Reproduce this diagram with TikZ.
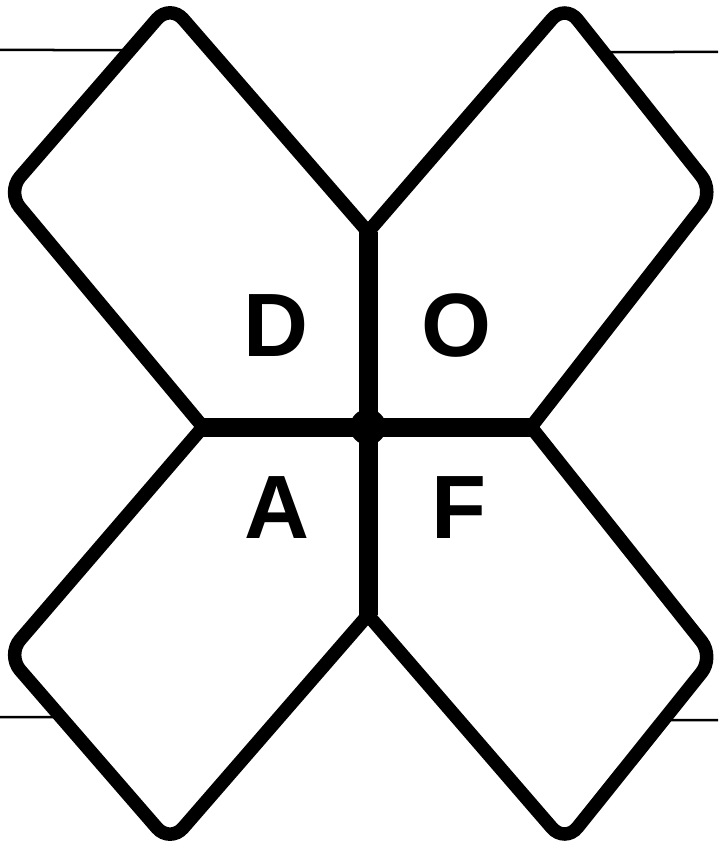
\documentclass[tikz,border=0pt]{standalone}
\usepackage{fontspec}
\setmainfont{Liberation Sans}
\begin{document}
\begin{tikzpicture}[x=1pt,y=-1pt,
  petal/.style={line width=13.5pt, line join=miter},
  crossbar/.style={line width=19pt},
  rule/.style={line width=2.5pt},
  letter/.style={inner sep=0pt, font=\fontsize{90}{90}\selectfont\bfseries}]
\useasboundingbox (0,0) rectangle (718,848);
% key points
\coordinate (C) at (368,427);
\coordinate (Lm) at (203,427);
\coordinate (Rm) at (531,427);
\coordinate (Tm) at (368,232);
\coordinate (Bm) at (368,615);
\coordinate (dL) at (7,192);
\coordinate (dT) at (170,4);
\coordinate (oT) at (565,4);
\coordinate (oR) at (714,192);
\coordinate (aL) at (7,655);
\coordinate (aB) at (170,843);
\coordinate (fB) at (565,843);
\coordinate (fR) at (714,657);
% petals
\draw[petal] (C) [rounded corners=5pt] -- (Lm) [rounded corners=20pt] -- (dL) -- (dT) [rounded corners=5pt] -- (Tm) [sharp corners] -- cycle;
\draw[petal] (C) [rounded corners=5pt] -- (Rm) [rounded corners=20pt] -- (oR) -- (oT) [rounded corners=5pt] -- (Tm) [sharp corners] -- cycle;
\draw[petal] (C) [rounded corners=5pt] -- (Lm) [rounded corners=20pt] -- (aL) -- (aB) [rounded corners=5pt] -- (Bm) [sharp corners] -- cycle;
\draw[petal] (C) [rounded corners=5pt] -- (Rm) [rounded corners=20pt] -- (fR) -- (fB) [rounded corners=5pt] -- (Bm) [sharp corners] -- cycle;
% central cross
\draw[crossbar] (Lm) -- (Rm);
\draw[crossbar] (Tm) -- (Bm);
\fill (C) circle (18);
% side rules
\coordinate (tlS) at (0,50);
\coordinate (tlE) at (intersection of dL--dT and 0,50--100,50);
\coordinate (trE) at (718,52);
\coordinate (trS) at (intersection of oT--oR and 600,52--700,52);
\coordinate (blS) at (0,717);
\coordinate (blE) at (intersection of aL--aB and 0,717--100,717);
\coordinate (brE) at (718,720);
\coordinate (brS) at (intersection of fR--fB and 600,720--700,720);
\draw[rule] (tlS) -- (tlE);
\draw[rule] (trS) -- (trE);
\draw[rule] (blS) -- (blE);
\draw[rule] (brS) -- (brE);
% letters
\node[letter] (D) at (276,326) {D};
\node[letter] (O) at (456,326) {O};
\node[letter] (A) at (277,508) {A};
\node[letter] (F) at (459,508) {F};
\end{tikzpicture}
\end{document}
